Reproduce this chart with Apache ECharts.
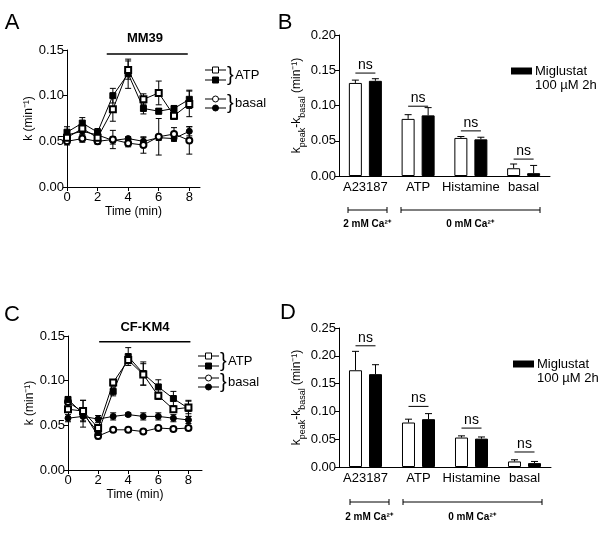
<!DOCTYPE html>
<html><head><meta charset="utf-8">
<script src="https://cdn.jsdelivr.net/npm/echarts@6/dist/echarts.min.js"></script>
<style>html,body{margin:0;padding:0;background:#fff}#c{width:600px;height:553px}</style>
</head><body><div id="c"></div>
<script>
// ---------- DATA ----------
const time = [0, 1, 2, 3, 4, 5, 6, 7, 8];
const timeTicks = [0, 2, 4, 6, 8];

// Panel A (MM39)
const A_atpCtrl    = [0.054, 0.064, 0.054, 0.085, 0.128, 0.096, 0.103, 0.078, 0.091];
const A_atpCtrlErr = [0.004, 0.004, 0.004, 0.013, 0.010, 0.006, 0.013, 0.004, 0.014];
const A_atpMig     = [0.060, 0.070, 0.060, 0.100, 0.124, 0.086, 0.083, 0.086, 0.096];
const A_atpMigErr  = [0.006, 0.006, 0.004, 0.008, 0.016, 0.006, 0.003, 0.003, 0.010];
const A_basCtrl    = [0.050, 0.053, 0.050, 0.052, 0.048, 0.046, 0.055, 0.058, 0.051];
const A_basCtrlErr = [0.004, 0.004, 0.003, 0.010, 0.004, 0.009, 0.020, 0.007, 0.015];
const A_basMig     = [0.057, 0.061, 0.057, 0.051, 0.053, 0.050, 0.054, 0.053, 0.061];
const A_basMigErr  = [0.004, 0.004, 0.003, 0.004, 0.002, 0.004, 0.003, 0.003, 0.005];
const A_treat = [[2.6, 0.1455], [7.9, 0.1455]];

// Panel C (CF-KM4)
const C_atpCtrl    = [0.068, 0.066, 0.047, 0.098, 0.123, 0.107, 0.083, 0.068, 0.070];
const C_atpCtrlErr = [0.003, 0.012, 0.004, 0.003, 0.004, 0.012, 0.004, 0.003, 0.007];
const C_atpMig     = [0.079, 0.063, 0.042, 0.088, 0.127, 0.108, 0.093, 0.080, 0.069];
const C_atpMigErr  = [0.003, 0.015, 0.005, 0.005, 0.010, 0.013, 0.008, 0.008, 0.009];
const C_basCtrl    = [0.076, 0.065, 0.038, 0.045, 0.045, 0.043, 0.047, 0.046, 0.047];
const C_basCtrlErr = [0.002, 0.004, 0.003, 0.002, 0.002, 0.002, 0.002, 0.002, 0.002];
const C_basMig     = [0.058, 0.060, 0.057, 0.060, 0.062, 0.060, 0.060, 0.058, 0.056];
const C_basMigErr  = [0.004, 0.005, 0.004, 0.004, 0.002, 0.004, 0.004, 0.004, 0.004];
const C_treat = [[2.07, 0.1436], [8.13, 0.1436]];

// Bar panels
const cats = ['A23187', 'ATP', 'Histamine', 'basal'];
const B_ctrl    = [0.132, 0.081, 0.054, 0.011];
const B_ctrlErr = [0.004, 0.006, 0.002, 0.006];
const B_mig     = [0.135, 0.086, 0.052, 0.004];
const B_migErr  = [0.003, 0.011, 0.003, 0.011];
const B_ns      = [0.146, 0.099, 0.064, 0.024];

const D_ctrl    = [0.174, 0.080, 0.053, 0.010];
const D_ctrlErr = [0.034, 0.006, 0.003, 0.003];
const D_mig     = [0.167, 0.086, 0.051, 0.007];
const D_migErr  = [0.017, 0.010, 0.003, 0.003];
const D_ns      = [0.218, 0.109, 0.070, 0.027];

const B_yTicks = [0, 0.05, 0.10, 0.15, 0.20];
const D_yTicks = [0, 0.05, 0.10, 0.15, 0.20, 0.25];

// ---------- CHART ----------
const FONT = "'Liberation Sans', Arial, sans-serif";
const chart = echarts.init(document.getElementById('c'), null, {renderer: 'canvas'});

function valXAxis(gi, max) {
  return {
    gridIndex: gi, type: 'value', min: 0, max: max,
    name: 'Time (min)', nameLocation: 'middle', nameGap: 19,
    nameTextStyle: {fontFamily: FONT, fontSize: 12, color: '#000'},
    axisLine: {show: true, lineStyle: {color: '#000', width: 1}},
    axisTick: {show: true, length: 4, lineStyle: {color: '#000'}, customValues: timeTicks},
    axisLabel: {fontFamily: FONT, fontSize: 13, color: '#000', margin: 4, customValues: timeTicks},
    splitLine: {show: false}
  };
}
function valYAxis(gi, max, name) {
  return {
    gridIndex: gi, type: 'value', min: 0, max: max, interval: 0.05,
    name: name, nameLocation: 'middle', nameGap: 32, nameRotate: 90,
    nameTextStyle: {fontFamily: FONT, fontSize: 12, color: '#000'},
    axisLine: {show: true, lineStyle: {color: '#000', width: 1}},
    axisTick: {show: true, length: 4, lineStyle: {color: '#000'}},
    axisLabel: {fontFamily: FONT, fontSize: 13, color: '#000', margin: 3,
      formatter: v => v.toFixed(2)},
    splitLine: {show: false}
  };
}
function catXAxis(gi) {
  return {
    gridIndex: gi, type: 'category', data: cats,
    axisLine: {show: true, lineStyle: {color: '#000', width: 1}},
    axisTick: {show: false},
    axisLabel: {fontFamily: FONT, fontSize: 13, color: '#000', margin: 5, interval: 0},
    splitLine: {show: false}
  };
}
function barYAxis(gi, max) {
  return {
    gridIndex: gi, type: 'value', min: 0, max: max, interval: 0.05,
    name: '{m|k}{s|peak}{m|-k}{s|basal}{m| (min⁻¹)}',
    nameLocation: 'middle', nameGap: 30, nameRotate: 90,
    nameTextStyle: {fontFamily: FONT, color: '#000',
      rich: {m: {fontFamily: FONT, fontSize: 12, color: '#000', lineHeight: 16, verticalAlign: 'top'},
             s: {fontFamily: FONT, fontSize: 9, color: '#000', lineHeight: 16, verticalAlign: 'bottom'}}},
    axisLine: {show: true, lineStyle: {color: '#000', width: 1}},
    axisTick: {show: true, length: 4, lineStyle: {color: '#000'}},
    axisLabel: {fontFamily: FONT, fontSize: 13, color: '#000', margin: 3,
      formatter: v => v.toFixed(2)},
    splitLine: {show: false}
  };
}

function lineSeries(gi, vals, symbol, z) {
  return {
    type: 'line', xAxisIndex: gi, yAxisIndex: gi, z: z,
    data: time.map((t, i) => [t, vals[i]]),
    symbol: symbol, symbolSize: 6, showSymbol: true,
    lineStyle: {color: '#000', width: 1},
    itemStyle: {color: '#000', borderColor: '#000', borderWidth: 1},
    animation: false, silent: true
  };
}
function errSeries(gi, vals, errs) {
  return {
    type: 'custom', xAxisIndex: gi, yAxisIndex: gi, z: 1, silent: true, animation: false,
    data: time.map((t, i) => [t, vals[i], errs[i]]),
    encode: {x: 0, y: 1},
    renderItem: (params, api) => {
      const x = api.value(0), v = api.value(1), e = api.value(2);
      const top = api.coord([x, v + e]), bot = api.coord([x, v - e]);
      const w = 3, st = {stroke: '#000', lineWidth: 1};
      return {type: 'group', children: [
        {type: 'line', shape: {x1: top[0], y1: top[1], x2: bot[0], y2: bot[1]}, style: st},
        {type: 'line', shape: {x1: top[0] - w, y1: top[1], x2: top[0] + w, y2: top[1]}, style: st},
        {type: 'line', shape: {x1: bot[0] - w, y1: bot[1], x2: bot[0] + w, y2: bot[1]}, style: st}
      ]};
    }
  };
}
function treatSeries(gi, pts) {
  return {type: 'line', xAxisIndex: gi, yAxisIndex: gi, data: pts, showSymbol: false, symbol: 'none',
    lineStyle: {color: '#000', width: 1.5}, animation: false, silent: true};
}
const BAR_W = 13, BAR_OFF = 10;
function barSeries(gi, vals, filled) {
  return {
    type: 'bar', xAxisIndex: gi, yAxisIndex: gi, data: vals, barWidth: BAR_W, barGap: '54%',
    itemStyle: {color: filled ? '#000' : '#fff', borderColor: '#000', borderWidth: 1},
    animation: false, silent: true, z: 2
  };
}
function barErrSeries(gi, vals, errs, side) {
  return {
    type: 'custom', xAxisIndex: gi, yAxisIndex: gi, z: 1, silent: true, animation: false,
    data: vals.map((v, i) => [i, v, errs[i]]),
    encode: {x: 0, y: 1},
    renderItem: (params, api) => {
      const c = api.value(0), v = api.value(1), e = api.value(2);
      const base = api.coord([c, v]), top = api.coord([c, v + e]);
      const x = base[0] + side * BAR_OFF, w = 3.5, st = {stroke: '#000', lineWidth: 1};
      return {type: 'group', children: [
        {type: 'line', shape: {x1: x, y1: base[1], x2: x, y2: top[1]}, style: st},
        {type: 'line', shape: {x1: x - w, y1: top[1], x2: x + w, y2: top[1]}, style: st}
      ]};
    }
  };
}
function nsSeries(gi, levels) {
  return {
    type: 'custom', xAxisIndex: gi, yAxisIndex: gi, z: 3, silent: true, animation: false,
    data: levels.map((v, i) => [i, v]),
    encode: {x: 0, y: 1},
    renderItem: (params, api) => {
      const p = api.coord([api.value(0), api.value(1)]);
      return {type: 'group', children: [
        {type: 'line', shape: {x1: p[0] - BAR_OFF, y1: p[1], x2: p[0] + BAR_OFF, y2: p[1]},
          style: {stroke: '#000', lineWidth: 1}},
        {type: 'text', style: {x: p[0], y: p[1] - 1, text: 'ns', fill: '#000',
          font: '14px ' + FONT, textAlign: 'center', textVerticalAlign: 'bottom'}}
      ]};
    }
  };
}

function lineLegend(x, yAtp, yBas) {
  const els = [];
  const rows = [
    [yAtp, 'rect', false], [yAtp + 10, 'rect', true],
    [yBas, 'circle', false], [yBas + 9, 'circle', true]
  ];
  rows.forEach(([y, shp, filled]) => {
    els.push({type: 'line', shape: {x1: x, y1: y, x2: x + 21, y2: y}, style: {stroke: '#000', lineWidth: 1}});
    if (shp === 'rect') els.push({type: 'rect', shape: {x: x + 7.5, y: y - 3, width: 6, height: 6},
      style: {fill: filled ? '#000' : '#fff', stroke: '#000', lineWidth: 1}});
    else els.push({type: 'circle', shape: {cx: x + 10.5, cy: y, r: 3},
      style: {fill: filled ? '#000' : '#fff', stroke: '#000', lineWidth: 1}});
  });
  [[yAtp + 5, 'ATP'], [yBas + 4.5, 'basal']].forEach(([y, t]) => {
    els.push({type: 'text', x: x + 22, y: y, style: {text: '}', font: '20px ' + FONT, fill: '#000', textVerticalAlign: 'middle'}});
    els.push({type: 'text', x: x + 30, y: y, style: {text: t, font: '13px ' + FONT, fill: '#000', textVerticalAlign: 'middle'}});
  });
  return els;
}
function barLegend(x, y) {
  return [
    {type: 'rect', shape: {x: x, y: y - 3.5, width: 21, height: 7}, style: {fill: '#000'}},
    {type: 'text', x: x + 24, y: y, style: {text: 'Miglustat', font: '13px ' + FONT, fill: '#000', textVerticalAlign: 'middle'}},
    {type: 'text', x: x + 24, y: y + 14, style: {text: '100 µM 2h', font: '13px ' + FONT, fill: '#000', textVerticalAlign: 'middle'}}
  ];
}
function bracket(x1, x2, y) {
  const st = {stroke: '#000', lineWidth: 1};
  return [
    {type: 'line', shape: {x1: x1, y1: y, x2: x2, y2: y}, style: st},
    {type: 'line', shape: {x1: x1, y1: y - 3, x2: x1, y2: y + 3}, style: st},
    {type: 'line', shape: {x1: x2, y1: y - 3, x2: x2, y2: y + 3}, style: st}
  ];
}
function txt(x, y, t, font, align) {
  return {type: 'text', x: x, y: y, style: {text: t, font: font, fill: '#000',
    textAlign: align || 'center', textVerticalAlign: 'middle'}};
}

const option = {
  backgroundColor: '#fff',
  animation: false,
  grid: [
    {left: 67, top: 50, width: 133, height: 137, outerBoundsMode: 'none'},
    {left: 339, top: 35, width: 211, height: 141, outerBoundsMode: 'none'},
    {left: 68, top: 336, width: 134, height: 134, outerBoundsMode: 'none'},
    {left: 339, top: 328, width: 212, height: 139, outerBoundsMode: 'none'}
  ],
  xAxis: [valXAxis(0, 8.7), catXAxis(1), valXAxis(2, 8.9), catXAxis(3)],
  yAxis: [valYAxis(0, 0.15, 'k (min⁻¹)'), barYAxis(1, 0.20), valYAxis(2, 0.15, 'k (min⁻¹)'), barYAxis(3, 0.25)],
  series: [
    errSeries(0, A_atpCtrl, A_atpCtrlErr), errSeries(0, A_atpMig, A_atpMigErr),
    errSeries(0, A_basCtrl, A_basCtrlErr), errSeries(0, A_basMig, A_basMigErr),
    lineSeries(0, A_basMig, 'circle', 3), lineSeries(0, A_basCtrl, 'emptyCircle', 4),
    lineSeries(0, A_atpMig, 'rect', 5), lineSeries(0, A_atpCtrl, 'emptyRect', 6),
    treatSeries(0, A_treat),

    barSeries(1, B_ctrl, false), barSeries(1, B_mig, true),
    barErrSeries(1, B_ctrl, B_ctrlErr, -1), barErrSeries(1, B_mig, B_migErr, 1),
    nsSeries(1, B_ns),

    errSeries(2, C_atpCtrl, C_atpCtrlErr), errSeries(2, C_atpMig, C_atpMigErr),
    errSeries(2, C_basCtrl, C_basCtrlErr), errSeries(2, C_basMig, C_basMigErr),
    lineSeries(2, C_basMig, 'circle', 3), lineSeries(2, C_basCtrl, 'emptyCircle', 4),
    lineSeries(2, C_atpMig, 'rect', 5), lineSeries(2, C_atpCtrl, 'emptyRect', 6),
    treatSeries(2, C_treat),

    barSeries(3, D_ctrl, false), barSeries(3, D_mig, true),
    barErrSeries(3, D_ctrl, D_ctrlErr, -1), barErrSeries(3, D_mig, D_migErr, 1),
    nsSeries(3, D_ns)
  ],
  graphic: [].concat(
    [txt(12, 23, 'A', '22px ' + FONT), txt(285, 23, 'B', '22px ' + FONT),
     txt(12, 315, 'C', '22px ' + FONT), txt(288, 313, 'D', '22px ' + FONT),
     txt(145, 38, 'MM39', 'bold 13px ' + FONT), txt(145, 327, 'CF-KM4', 'bold 13px ' + FONT)],
    lineLegend(205, 70, 99), lineLegend(198, 356, 378),
    barLegend(511, 71), barLegend(513, 364),
    bracket(348, 387, 210), bracket(401, 540, 210),
    [txt(367, 224, '2 mM Ca²⁺', 'bold 10px ' + FONT), txt(470, 224, '0 mM Ca²⁺', 'bold 10px ' + FONT)],
    bracket(350, 389, 502), bracket(403, 542, 502),
    [txt(369, 517, '2 mM Ca²⁺', 'bold 10px ' + FONT), txt(472, 517, '0 mM Ca²⁺', 'bold 10px ' + FONT)]
  )
};
chart.setOption(option);
</script>
</body></html>
